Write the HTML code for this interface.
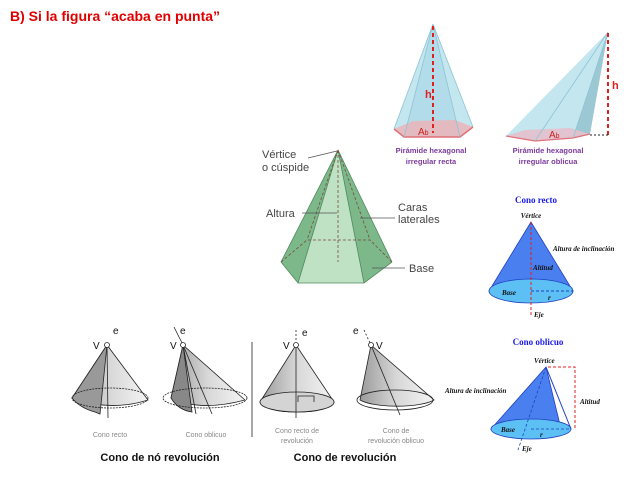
<!DOCTYPE html>
<html><head><meta charset="utf-8"><style>
html,body{margin:0;padding:0;background:#fff;}
svg{display:block;font-family:"Liberation Sans",sans-serif;}
.g{font-size:11px;fill:#444;}
.p{font-size:7.5px;fill:#7a3a9a;font-weight:bold;}
.b{font-family:"Liberation Serif",serif;font-weight:bold;fill:#1a1aee;font-size:9px;}
.i{font-family:"Liberation Serif",serif;font-weight:bold;font-style:italic;font-size:7px;fill:#111;}
.s{font-size:7px;fill:#888;}
</style></head><body>
<svg width="640" height="480" viewBox="0 0 640 480">
<defs>
<linearGradient id="gc" x1="0" x2="1" y1="0" y2="0"><stop offset="0" stop-color="#9a9a9a"/><stop offset="0.5" stop-color="#d8d8d8"/><stop offset="1" stop-color="#f4f4f4"/></linearGradient>
</defs>
<text x="10" y="21" font-size="14" font-weight="bold" fill="#e00000">B) Si la figura “acaba en punta”</text>

<!-- right pyramid -->
<polygon points="433,24 394,129 404,137 460,137 473,127" fill="#c4e6ef"/>
<polygon points="433,24 404,137 460,137" fill="#b2dcea"/>
<polygon points="394,129 413,121 455,120 473,127 460,137 404,137" fill="#eab4b8" opacity="0.85"/>
<polyline points="394,129 404,137 460,137 473,127" fill="none" stroke="#e07078" stroke-width="1.5"/>
<g stroke="#8cc4d4" stroke-width="0.8" fill="none"><line x1="433" y1="24" x2="394" y2="129"/><line x1="433" y1="24" x2="404" y2="137"/><line x1="433" y1="24" x2="460" y2="137"/><line x1="433" y1="24" x2="473" y2="127"/></g>
<line x1="433" y1="26" x2="433" y2="133" stroke="#e02020" stroke-width="2" stroke-dasharray="4,3"/>
<text x="425" y="98" font-size="11" font-weight="bold" fill="#e02020">h</text>
<text x="418" y="135" font-size="10" fill="#d02020">A<tspan font-size="7">b</tspan></text>
<text x="431" y="153" text-anchor="middle" class="p">Pirámide hexagonal</text>
<text x="431" y="164" text-anchor="middle" class="p">irregular recta</text>

<!-- oblique pyramid -->
<polygon points="608,32 506,136 535,141 573,138 590,134" fill="#c4e6ef"/>
<polygon points="608,32 573,138 590,134" fill="#9cc8d4"/>
<polygon points="506,136 525,130 570,128 590,134 573,138 535,141" fill="#e4c0cc" opacity="0.9"/>
<polyline points="506,136 535,141 573,138 590,134" fill="none" stroke="#e07078" stroke-width="1.2"/>
<g stroke="#8cc4d4" stroke-width="0.8"><line x1="608" y1="32" x2="535" y2="141"/><line x1="608" y1="32" x2="573" y2="138"/></g>
<line x1="608" y1="33" x2="608" y2="135" stroke="#e02020" stroke-width="2" stroke-dasharray="4,3"/>
<line x1="590" y1="135" x2="608" y2="135" stroke="#222" stroke-width="1" stroke-dasharray="2,2"/>
<text x="612" y="89" font-size="11" font-weight="bold" fill="#e02020">h</text>
<text x="549" y="138" font-size="10" fill="#d02020">A<tspan font-size="7">b</tspan></text>
<text x="548" y="153" text-anchor="middle" class="p">Pirámide hexagonal</text>
<text x="548" y="164" text-anchor="middle" class="p">irregular oblicua</text>

<!-- green pyramid -->
<polygon points="338,150 281,262 298,283 364,283 392,262" fill="#7cb88a"/>
<polygon points="338,150 298,283 364,283" fill="#bfe2c4"/>
<g stroke="#4f8a5c" stroke-width="0.8" fill="none"><polyline points="281,262 298,283 364,283 392,262"/><line x1="338" y1="150" x2="298" y2="283"/><line x1="338" y1="150" x2="364" y2="283"/><line x1="338" y1="150" x2="281" y2="262"/><line x1="338" y1="150" x2="392" y2="262"/></g>
<g stroke="#7a4a3a" stroke-width="0.8" stroke-dasharray="3,2" fill="none"><polyline points="281,262 307,240 370,240 392,262"/><line x1="338" y1="150" x2="338" y2="262"/><line x1="338" y1="150" x2="307" y2="240"/><line x1="338" y1="150" x2="370" y2="240"/></g>
<g stroke="#555" stroke-width="0.8"><line x1="308" y1="158" x2="337" y2="151"/><line x1="302" y1="213" x2="337" y2="213"/><line x1="360" y1="218" x2="395" y2="218"/><line x1="372" y1="268" x2="405" y2="268"/></g>
<text x="262" y="158" class="g">Vértice</text><text x="262" y="171" class="g">o cúspide</text>
<text x="266" y="217" class="g">Altura</text>
<text x="398" y="211" class="g">Caras</text><text x="398" y="223" class="g">laterales</text>
<text x="409" y="272" class="g">Base</text>

<!-- cono recto -->
<text x="536" y="203" text-anchor="middle" class="b">Cono recto</text>
<polygon points="531,222 489,291 573,291" fill="#4a7ff0" stroke="#2040c0" stroke-width="0.8"/>
<ellipse cx="531" cy="291" rx="42" ry="12" fill="#5cc0f4" stroke="#2040c0" stroke-width="0.8"/>
<line x1="531" y1="222" x2="531" y2="316" stroke="#e02020" stroke-width="1" stroke-dasharray="3,2"/>
<line x1="531" y1="291" x2="573" y2="291" stroke="#2040c0" stroke-width="1" stroke-dasharray="3,2"/>
<text x="531" y="218" text-anchor="middle" class="i">Vértice</text>
<text x="553" y="251" class="i">Altura de inclinación</text>
<text x="533" y="270" class="i">Altitud</text>
<text x="502" y="295" class="i">Base</text>
<text x="548" y="300" class="i">r</text>
<text x="534" y="317" class="i">Eje</text>

<!-- cono oblicuo -->
<text x="538" y="345" text-anchor="middle" class="b">Cono oblicuo</text>
<polygon points="546,367 491,429 561,429" fill="#4a7ff0" stroke="#2040c0" stroke-width="0.8"/>
<ellipse cx="531" cy="429" rx="40" ry="10" fill="#5cc0f4" stroke="#2040c0" stroke-width="0.8"/>
<line x1="546" y1="367" x2="571" y2="429" stroke="#2040c0" stroke-width="1"/>
<line x1="546" y1="367" x2="518" y2="450" stroke="#2040c0" stroke-width="0.8" stroke-dasharray="3,2"/>
<line x1="531" y1="429" x2="571" y2="429" stroke="#2040c0" stroke-width="0.8" stroke-dasharray="3,2"/>
<polyline points="548,367 575,367 575,430" fill="none" stroke="#e02020" stroke-width="1" stroke-dasharray="3,2"/>
<text x="534" y="363" class="i">Vértice</text>
<text x="445" y="393" class="i">Altura de inclinación</text>
<text x="580" y="404" class="i">Altitud</text>
<text x="501" y="432" class="i">Base</text>
<text x="540" y="437" class="i">r</text>
<text x="522" y="451" class="i">Eje</text>

<!-- grey cones -->
<g stroke="#222" stroke-width="0.8">
<path d="M107,345 L72,398 Q110,412 148,400 Z" fill="url(#gc)"/>
<path d="M107,345 L72,398 Q80,408 95,412 L100,414 Z" fill="#999"/>
<ellipse cx="110" cy="398" rx="38" ry="10" fill="none" stroke-dasharray="2,1"/>
<line x1="107" y1="345" x2="108" y2="418"/>
<path d="M183,345 L171,398 Q200,412 245,400 Z" fill="url(#gc)"/>
<path d="M183,345 L171,398 Q178,410 192,412 Z" fill="#888"/>
<ellipse cx="205" cy="398" rx="42" ry="10" fill="none" stroke-dasharray="2,1"/>
<line x1="183" y1="345" x2="212" y2="414"/><line x1="183" y1="345" x2="196" y2="414"/>
<line x1="174" y1="327" x2="182" y2="343"/>
<path d="M296,345 L260,402 A37,10 0 0 0 334,402 Z" fill="url(#gc)"/>
<ellipse cx="297" cy="402" rx="37" ry="10" fill="#d4d4d4"/>
<line x1="296" y1="345" x2="296" y2="418"/><line x1="296" y1="330" x2="296" y2="340" stroke-dasharray="2,2"/>
<polyline points="298,402 298,396 314,396 314,402" fill="none"/>
<path d="M371,345 L360,400 A40,10 0 0 0 434,400 Z" fill="url(#gc)"/>
<ellipse cx="395" cy="400" rx="38" ry="10" fill="none"/>
<line x1="371" y1="345" x2="400" y2="415"/>
<line x1="364" y1="330" x2="370" y2="343" stroke-dasharray="2,2"/>
<line x1="252" y1="342" x2="252" y2="437"/>
</g>
<g fill="#fff" stroke="#222" stroke-width="0.8"><circle cx="107" cy="345" r="2.5"/><circle cx="183" cy="345" r="2.5"/><circle cx="296" cy="345" r="2.5"/><circle cx="371" cy="345" r="2.5"/></g>
<g font-size="10" fill="#111"><text x="93" y="349">V</text><text x="113" y="334">e</text><text x="170" y="349">V</text><text x="180" y="334">e</text><text x="283" y="349">V</text><text x="302" y="336">e</text><text x="376" y="349">V</text><text x="353" y="334">e</text></g>
<text x="110" y="437" text-anchor="middle" class="s">Cono recto</text>
<text x="206" y="437" text-anchor="middle" class="s">Cono oblicuo</text>
<text x="297" y="433" text-anchor="middle" class="s">Cono recto de</text>
<text x="297" y="443" text-anchor="middle" class="s">revolución</text>
<text x="396" y="433" text-anchor="middle" class="s">Cono de</text>
<text x="396" y="443" text-anchor="middle" class="s">revolución oblicuo</text>
<text x="160" y="461" text-anchor="middle" font-size="11" font-weight="bold" fill="#111">Cono de nó revolución</text>
<text x="345" y="461" text-anchor="middle" font-size="11" font-weight="bold" fill="#111">Cono de revolución</text>
</svg>
</body></html>
